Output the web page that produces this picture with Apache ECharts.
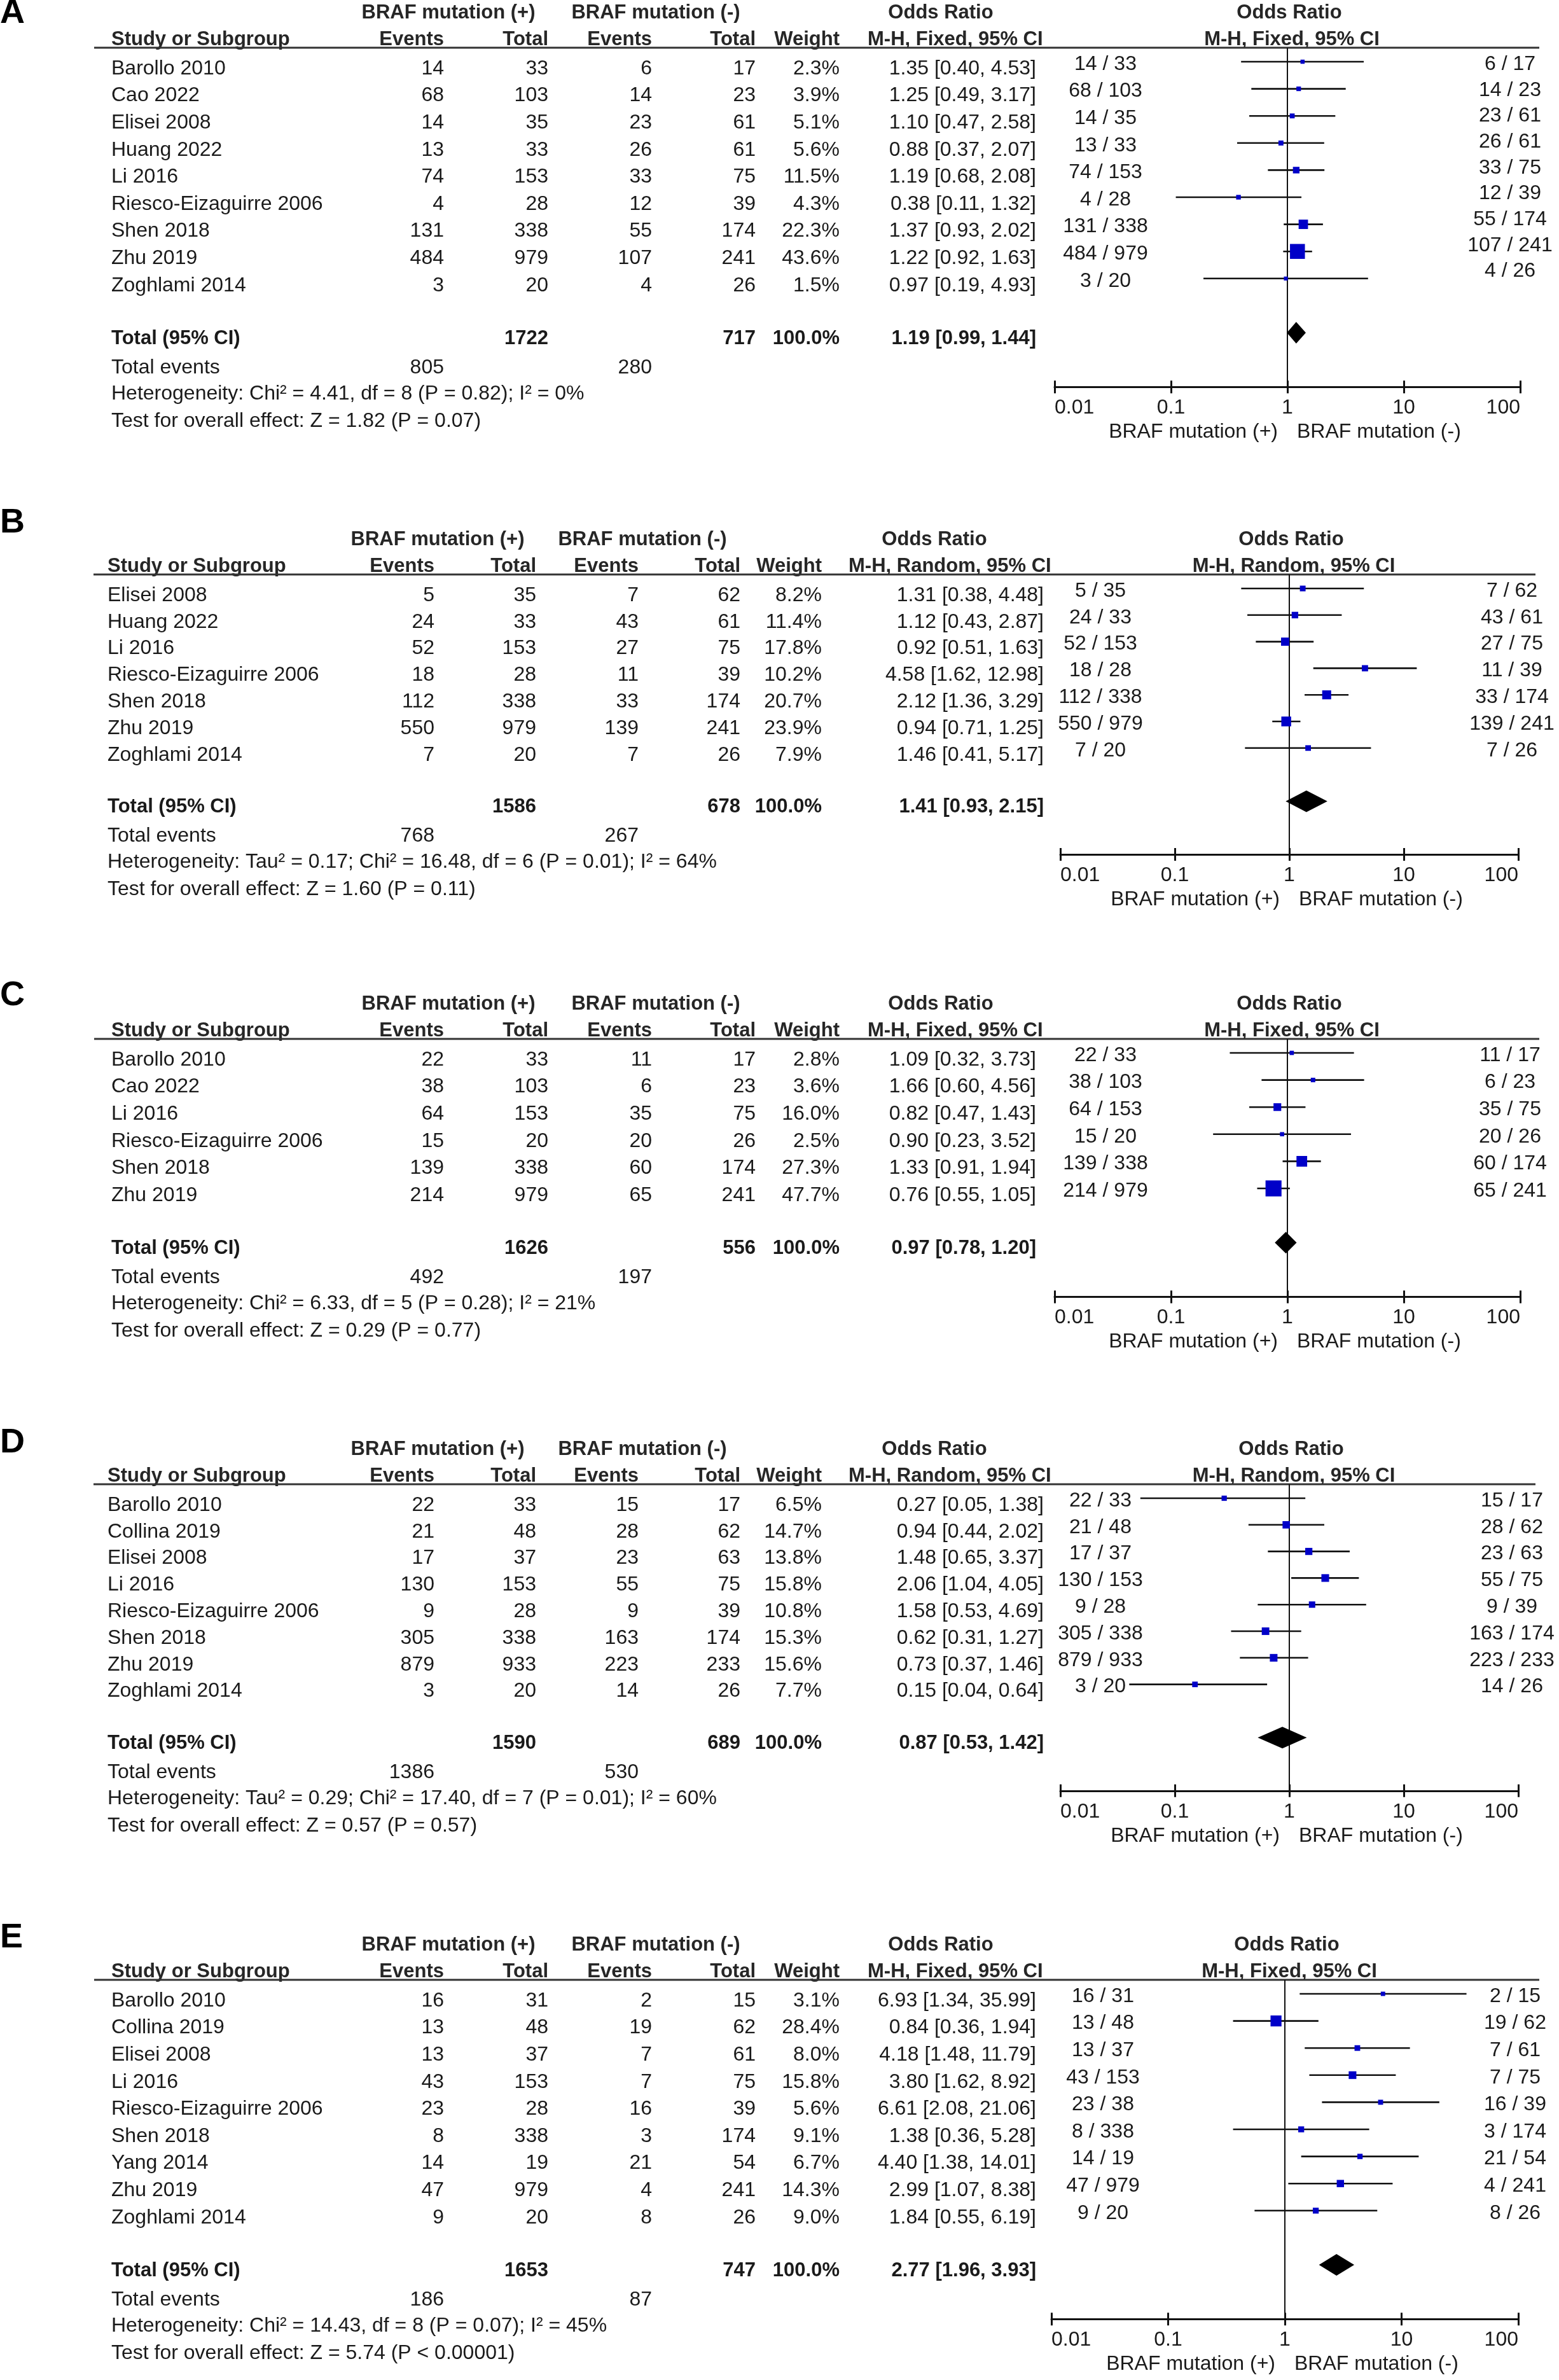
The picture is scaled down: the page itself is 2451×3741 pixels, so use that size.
<!DOCTYPE html>
<html><head><meta charset="utf-8">
<script src="https://cdn.jsdelivr.net/npm/echarts@6/dist/echarts.min.js"></script>
<style>html,body{margin:0;padding:0;background:#fff}#c{width:2451px;height:3741px}</style>
</head><body><div id="c"></div>
<script>
// ================= DATA =================
const tickLabels = ['0.01', '0.1', '1', '10', '100'];
const favourLabels = ['BRAF mutation (+)', 'BRAF mutation (-)'];

// Panel A (M-H, Fixed)
const studiesA = ['Barollo 2010','Cao 2022','Elisei 2008','Huang 2022','Li 2016','Riesco-Eizaguirre 2006','Shen 2018','Zhu 2019','Zoghlami 2014'];
const evPosA = [14, 68, 14, 13, 74, 4, 131, 484, 3];
const totPosA = [33, 103, 35, 33, 153, 28, 338, 979, 20];
const evNegA = [6, 14, 23, 26, 33, 12, 55, 107, 4];
const totNegA = [17, 23, 61, 61, 75, 39, 174, 241, 26];
const weightA = [2.3, 3.9, 5.1, 5.6, 11.5, 4.3, 22.3, 43.6, 1.5];
const orA = [1.35, 1.25, 1.10, 0.88, 1.19, 0.38, 1.37, 1.22, 0.97];
const loA = [0.40, 0.49, 0.47, 0.37, 0.68, 0.11, 0.93, 0.92, 0.19];
const hiA = [4.53, 3.17, 2.58, 2.07, 2.08, 1.32, 2.02, 1.63, 4.93];
const pooledA = [1.19, 0.99, 1.44];
const totalsA = [1722, 717];
const eventsA = [805, 280];
const hetA = 'Heterogeneity: Chi² = 4.41, df = 8 (P = 0.82); I² = 0%';
const testA = 'Test for overall effect: Z = 1.82 (P = 0.07)';

// Panel B (M-H, Random)
const studiesB = ['Elisei 2008','Huang 2022','Li 2016','Riesco-Eizaguirre 2006','Shen 2018','Zhu 2019','Zoghlami 2014'];
const evPosB = [5, 24, 52, 18, 112, 550, 7];
const totPosB = [35, 33, 153, 28, 338, 979, 20];
const evNegB = [7, 43, 27, 11, 33, 139, 7];
const totNegB = [62, 61, 75, 39, 174, 241, 26];
const weightB = [8.2, 11.4, 17.8, 10.2, 20.7, 23.9, 7.9];
const orB = [1.31, 1.12, 0.92, 4.58, 2.12, 0.94, 1.46];
const loB = [0.38, 0.43, 0.51, 1.62, 1.36, 0.71, 0.41];
const hiB = [4.48, 2.87, 1.63, 12.98, 3.29, 1.25, 5.17];
const pooledB = [1.41, 0.93, 2.15];
const totalsB = [1586, 678];
const eventsB = [768, 267];
const hetB = 'Heterogeneity: Tau² = 0.17; Chi² = 16.48, df = 6 (P = 0.01); I² = 64%';
const testB = 'Test for overall effect: Z = 1.60 (P = 0.11)';

// Panel C (M-H, Fixed)
const studiesC = ['Barollo 2010','Cao 2022','Li 2016','Riesco-Eizaguirre 2006','Shen 2018','Zhu 2019'];
const evPosC = [22, 38, 64, 15, 139, 214];
const totPosC = [33, 103, 153, 20, 338, 979];
const evNegC = [11, 6, 35, 20, 60, 65];
const totNegC = [17, 23, 75, 26, 174, 241];
const weightC = [2.8, 3.6, 16.0, 2.5, 27.3, 47.7];
const orC = [1.09, 1.66, 0.82, 0.90, 1.33, 0.76];
const loC = [0.32, 0.60, 0.47, 0.23, 0.91, 0.55];
const hiC = [3.73, 4.56, 1.43, 3.52, 1.94, 1.05];
const pooledC = [0.97, 0.78, 1.20];
const totalsC = [1626, 556];
const eventsC = [492, 197];
const hetC = 'Heterogeneity: Chi² = 6.33, df = 5 (P = 0.28); I² = 21%';
const testC = 'Test for overall effect: Z = 0.29 (P = 0.77)';

// Panel D (M-H, Random)
const studiesD = ['Barollo 2010','Collina 2019','Elisei 2008','Li 2016','Riesco-Eizaguirre 2006','Shen 2018','Zhu 2019','Zoghlami 2014'];
const evPosD = [22, 21, 17, 130, 9, 305, 879, 3];
const totPosD = [33, 48, 37, 153, 28, 338, 933, 20];
const evNegD = [15, 28, 23, 55, 9, 163, 223, 14];
const totNegD = [17, 62, 63, 75, 39, 174, 233, 26];
const weightD = [6.5, 14.7, 13.8, 15.8, 10.8, 15.3, 15.6, 7.7];
const orD = [0.27, 0.94, 1.48, 2.06, 1.58, 0.62, 0.73, 0.15];
const loD = [0.05, 0.44, 0.65, 1.04, 0.53, 0.31, 0.37, 0.04];
const hiD = [1.38, 2.02, 3.37, 4.05, 4.69, 1.27, 1.46, 0.64];
const pooledD = [0.87, 0.53, 1.42];
const totalsD = [1590, 689];
const eventsD = [1386, 530];
const hetD = 'Heterogeneity: Tau² = 0.29; Chi² = 17.40, df = 7 (P = 0.01); I² = 60%';
const testD = 'Test for overall effect: Z = 0.57 (P = 0.57)';

// Panel E (M-H, Fixed)
const studiesE = ['Barollo 2010','Collina 2019','Elisei 2008','Li 2016','Riesco-Eizaguirre 2006','Shen 2018','Yang 2014','Zhu 2019','Zoghlami 2014'];
const evPosE = [16, 13, 13, 43, 23, 8, 14, 47, 9];
const totPosE = [31, 48, 37, 153, 28, 338, 19, 979, 20];
const evNegE = [2, 19, 7, 7, 16, 3, 21, 4, 8];
const totNegE = [15, 62, 61, 75, 39, 174, 54, 241, 26];
const weightE = [3.1, 28.4, 8.0, 15.8, 5.6, 9.1, 6.7, 14.3, 9.0];
const orE = [6.93, 0.84, 4.18, 3.80, 6.61, 1.38, 4.40, 2.99, 1.84];
const loE = [1.34, 0.36, 1.48, 1.62, 2.08, 0.36, 1.38, 1.07, 0.55];
const hiE = [35.99, 1.94, 11.79, 8.92, 21.06, 5.28, 14.01, 8.38, 6.19];
const pooledE = [2.77, 1.96, 3.93];
const totalsE = [1653, 747];
const eventsE = [186, 87];
const hetE = 'Heterogeneity: Chi² = 14.43, df = 8 (P = 0.07); I² = 45%';
const testE = 'Test for overall effect: Z = 5.74 (P < 0.00001)';
const plotLabelFixesE = {4: '23 / 38'};

// ================= LAYOUT / STYLE =================
const FF = '"Liberation Sans", Arial, Helvetica, sans-serif';
const REG = 'normal 32px ' + FF;
const BOLD = 'bold 31px ' + FF;
const TEXT = '#1a1a1a';
const HEAD = '#262626';
const BLUE = '#0000c8';

const LAYOUT = {
  Fixed:  {name:175, evP:698, totP:862, evN:1025, totN:1188, w:1320, ci:1629, hdrP:705, hdrN:1031, orHdr:1479, mhLeft:1364, center:2024, dec:183, step:42.6, ulStart:148, ulEnd:2420, lcDx:-286},
  Random: {name:169, evP:683, totP:843, evN:1004, totN:1164, w:1292, ci:1641, hdrP:688, hdrN:1010, orHdr:1469, mhLeft:1334, center:2027, dec:180, step:41.8, ulStart:147, ulEnd:2414, lcDx:-297}
};

const panels = [
  {letter:'A', method:'Fixed', H:20, labelY:21, studies:studiesA, evPos:evPosA, totPos:totPosA, evNeg:evNegA, totNeg:totNegA, weight:weightA, or:orA, lo:loA, hi:hiA, pooled:pooledA, totals:totalsA, events:eventsA, het:hetA, test:testA, rcDrift:-1.9},
  {letter:'B', method:'Random', H:848, labelY:822, studies:studiesB, evPos:evPosB, totPos:totPosB, evNeg:evNegB, totNeg:totNegB, weight:weightB, or:orB, lo:loB, hi:hiB, pooled:pooledB, totals:totalsB, events:eventsB, het:hetB, test:testB},
  {letter:'C', method:'Fixed', H:1578, labelY:1565, studies:studiesC, evPos:evPosC, totPos:totPosC, evNeg:evNegC, totNeg:totNegC, weight:weightC, or:orC, lo:loC, hi:hiC, pooled:pooledC, totals:totalsC, events:eventsC, het:hetC, test:testC},
  {letter:'D', method:'Random', H:2278, labelY:2268, studies:studiesD, evPos:evPosD, totPos:totPosD, evNeg:evNegD, totNeg:totNegD, weight:weightD, or:orD, lo:loD, hi:hiD, pooled:pooledD, totals:totalsD, events:eventsD, het:hetD, test:testD},
  {letter:'E', method:'Fixed', H:3057, labelY:3046, center:2020, dec:183.5, rcDx:362, labelFix:plotLabelFixesE, studies:studiesE, evPos:evPosE, totPos:totPosE, evNeg:evNegE, totNeg:totNegE, weight:weightE, or:orE, lo:loE, hi:hiE, pooled:pooledE, totals:totalsE, events:eventsE, het:hetE, test:testE}
];

function txt(x, y, s, align, font, fill) {
  return {type:'text', silent:true, style:{x:x, y:y, text:String(s), font:font || REG, fill:fill || TEXT,
    align:align, textAlign:align, verticalAlign:'middle', textVerticalAlign:'middle'}};
}
function gtxt(x, y, s, align, font, fill) {
  return {type:'text', x:x, y:y, silent:true, style:{text:String(s), font:font || REG, fill:fill || TEXT,
    align:align, textAlign:align, verticalAlign:'middle', textVerticalAlign:'middle'}};
}
const pct = v => v.toFixed(1) + '%';
const ciText = (o, l, h) => o.toFixed(2) + ' [' + l.toFixed(2) + ', ' + h.toFixed(2) + ']';

const grids = [], xAxes = [], yAxes = [], series = [], graphics = [];

panels.forEach((p, k) => {
  const L = LAYOUT[p.method];
  const center = p.center || L.center;
  const dec = p.dec || L.dec;
  const n = p.studies.length;
  const step = L.step;
  const top = p.H + 55;
  const ymin = -22 / step, ymax = n + 3;
  const height = (ymax - ymin) * step;
  const axisY = top + height;
  const rcDx = p.rcDx || 350;
  const drift = p.rcDrift || 0;

  grids.push({left: center - 2 * dec, width: 4 * dec, top: top, height: height, containLabel: false, outerBoundsMode: 'none'});
  const common = {gridIndex: k, type: 'log', logBase: 10, min: 0.01, max: 100, position: 'bottom', splitLine: {show: false}, minorTick: {show: false}, axisPointer: {show: false}};
  xAxes.push(Object.assign({}, common, {
    axisLine: {show: true, onZero: false, lineStyle: {color: '#111', width: 3}},
    axisTick: {show: true, inside: false, length: 10, lineStyle: {color: '#111', width: 3}},
    axisLabel: {show: true, margin: 17, fontSize: 32, fontFamily: FF, color: TEXT, alignMinLabel: 'left', alignMaxLabel: 'right',
      formatter: v => tickLabels[Math.round(Math.log10(v)) + 2]}
  }));
  xAxes.push(Object.assign({}, common, {
    axisLine: {show: false, onZero: false},
    axisTick: {show: true, inside: true, length: 10, lineStyle: {color: '#111', width: 3}},
    axisLabel: {show: false}
  }));
  yAxes.push({gridIndex: k, type: 'value', min: ymin, max: ymax, inverse: true, show: false,
    axisLine: {show: false, onZero: false}});

  const xi = 2 * k, yi = k;

  // reference line at OR = 1
  series.push({type: 'line', xAxisIndex: xi, yAxisIndex: yi, data: [[1, ymin], [1, ymax]], symbol: 'none',
    silent: true, animation: false, z: 1, lineStyle: {color: '#111', width: 2}});

  // study CIs + weight squares
  series.push({type: 'custom', xAxisIndex: xi, yAxisIndex: yi, silent: true, animation: false, z: 3,
    data: p.studies.map((s, i) => [p.lo[i], p.or[i], p.hi[i], p.weight[i], i]),
    encode: {x: [0, 1, 2], y: 4},
    renderItem: (params, api) => {
      const r = api.value(4);
      const a = api.coord([api.value(0), r]);
      const b = api.coord([api.value(2), r]);
      const c = api.coord([api.value(1), r]);
      const s = 5.6 + 0.41 * api.value(3);
      return {type: 'group', children: [
        {type: 'line', shape: {x1: a[0], y1: a[1], x2: b[0], y2: b[1]}, style: {stroke: '#111', lineWidth: 2.6}},
        {type: 'rect', shape: {x: c[0] - s / 2, y: c[1] - s / 2, width: s, height: s}, style: {fill: BLUE}}
      ]};
    }
  });

  // table text per study row
  series.push({type: 'custom', xAxisIndex: xi, yAxisIndex: yi, silent: true, animation: false, z: 4,
    data: p.studies.map((s, i) => [1, i]),
    encode: {x: 0, y: 1},
    renderItem: (params, api) => {
      const i = api.value(1);
      const y = api.coord([1, i])[1];
      const ty = y + 11, cy = y + 4;
      const leftLbl = (p.labelFix && p.labelFix[i]) || (p.evPos[i] + ' / ' + p.totPos[i]);
      const rightLbl = p.evNeg[i] + ' / ' + p.totNeg[i];
      return {type: 'group', children: [
        txt(L.name, ty, p.studies[i], 'left'),
        txt(L.evP, ty, p.evPos[i], 'right'),
        txt(L.totP, ty, p.totPos[i], 'right'),
        txt(L.evN, ty, p.evNeg[i], 'right'),
        txt(L.totN, ty, p.totNeg[i], 'right'),
        txt(L.w, ty, pct(p.weight[i]), 'right'),
        txt(L.ci, ty, ciText(p.or[i], p.lo[i], p.hi[i]), 'right'),
        txt(center + L.lcDx, cy, leftLbl, 'center'),
        txt(center + rcDx, cy + drift * i, rightLbl, 'center')
      ]};
    }
  });

  // pooled diamond + summary rows
  series.push({type: 'custom', xAxisIndex: xi, yAxisIndex: yi, silent: true, animation: false, z: 4,
    data: [[p.pooled[1], p.pooled[0], p.pooled[2], n + 1]],
    encode: {x: [0, 1, 2], y: 3},
    renderItem: (params, api) => {
      const r = api.value(3);
      const l = api.coord([api.value(0), r]), m = api.coord([api.value(1), r]), h = api.coord([api.value(2), r]);
      const y = m[1], hh = 17;
      const ty = y + 9;
      const sumW = p.weight.reduce((a, b) => a + b, 0);
      return {type: 'group', children: [
        {type: 'polygon', shape: {points: [[l[0], y], [m[0], y - hh], [h[0], y], [m[0], y + hh]]}, style: {fill: '#000'}},
        txt(L.name, ty, 'Total (95% CI)', 'left', BOLD),
        txt(L.totP, ty, p.totals[0], 'right', BOLD),
        txt(L.totN, ty, p.totals[1], 'right', BOLD),
        txt(L.w, ty, pct(Math.round(sumW / 10) * 10), 'right', BOLD),
        txt(L.ci, ty, ciText(p.pooled[0], p.pooled[1], p.pooled[2]), 'right', BOLD),
        txt(L.name, ty + 46, 'Total events', 'left'),
        txt(L.evP, ty + 46, p.events[0], 'right'),
        txt(L.evN, ty + 46, p.events[1], 'right'),
        txt(L.name, ty + 87, p.het, 'left'),
        txt(L.name, ty + 130, p.test, 'left')
      ]};
    }
  });

  // headers
  const H = p.H;
  const mh = 'M-H, ' + p.method + ', 95% CI';
  graphics.push(gtxt(0, p.labelY, p.letter, 'left', 'bold 54px ' + FF, '#000'));
  graphics.push(gtxt(L.hdrP, H, 'BRAF mutation (+)', 'center', BOLD, HEAD));
  graphics.push(gtxt(L.hdrN, H, 'BRAF mutation (-)', 'center', BOLD, HEAD));
  graphics.push(gtxt(L.orHdr, H, 'Odds Ratio', 'center', BOLD, HEAD));
  graphics.push(gtxt(center + 3, H, 'Odds Ratio', 'center', BOLD, HEAD));
  const h2 = H + 42;
  graphics.push(gtxt(L.name, h2, 'Study or Subgroup', 'left', BOLD, HEAD));
  graphics.push(gtxt(L.evP, h2, 'Events', 'right', BOLD, HEAD));
  graphics.push(gtxt(L.totP, h2, 'Total', 'right', BOLD, HEAD));
  graphics.push(gtxt(L.evN, h2, 'Events', 'right', BOLD, HEAD));
  graphics.push(gtxt(L.totN, h2, 'Total', 'right', BOLD, HEAD));
  graphics.push(gtxt(L.w, h2, 'Weight', 'right', BOLD, HEAD));
  graphics.push(gtxt(L.mhLeft, h2, mh, 'left', BOLD, HEAD));
  graphics.push(gtxt(center + 7, h2, mh, 'center', BOLD, HEAD));
  graphics.push({type: 'line', silent: true, shape: {x1: L.ulStart, y1: H + 55, x2: L.ulEnd, y2: H + 55}, style: {stroke: '#333', lineWidth: 3}});
  // favours labels under axis
  graphics.push(gtxt(center - 15, axisY + 71, favourLabels[0], 'right'));
  graphics.push(gtxt(center + 15, axisY + 71, favourLabels[1], 'left'));
});

const chart = echarts.init(document.getElementById('c'), null, {renderer: 'canvas'});
chart.setOption({
  backgroundColor: '#ffffff',
  animation: false,
  grid: grids,
  xAxis: xAxes,
  yAxis: yAxes,
  series: series,
  graphic: {elements: graphics}
});
</script></body></html>
